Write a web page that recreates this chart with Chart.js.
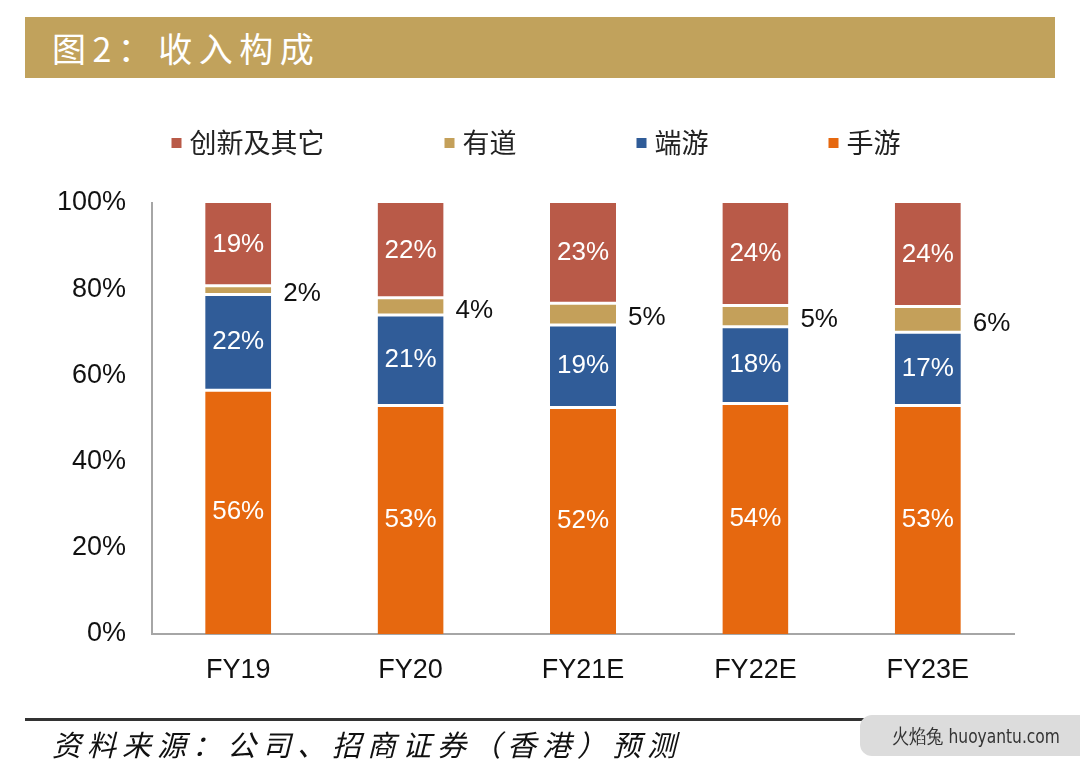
<!DOCTYPE html>
<html>
<head>
<meta charset="utf-8">
<script src="https://cdn.jsdelivr.net/npm/chart.js@4/dist/chart.umd.min.js"></script>
<style>
  body { margin: 0; width: 1080px; height: 771px; background: #fff; position: relative; overflow: hidden; }
  #banner { position: absolute; left: 25px; top: 17px; width: 1030px; height: 61px; background: #c1a25c; }
  #banner span { position: absolute; left: 27px; top: 6px; color: #fff; font: 34px "Noto Sans CJK SC"; letter-spacing: 6.5px; }
  #chart-box { position: absolute; left: 0; top: 100px; width: 1080px; height: 620px; }
  #rule { position: absolute; left: 25px; top: 718px; width: 840px; height: 3px; background: #333; }
  #source { position: absolute; left: 52px; top: 722px; font: italic 29px "Noto Sans CJK SC"; letter-spacing: 6px; color: #111; }
  #mark { position: absolute; left: 860px; top: 715px; width: 240px; height: 41px; background: #dcdcdc; border-radius: 12px; }
  #mark span { position: absolute; left: 32px; top: 8px; font: 20px "DejaVu Sans Condensed", "Liberation Sans"; color: #333; transform: scaleX(0.86); transform-origin: left center; white-space: nowrap; }
</style>
</head>
<body>
<div id="banner"><span>图2：收入构成</span></div>
<div id="chart-box"><canvas id="mix-chart"></canvas></div>
<div id="rule"></div>
<div id="source">资料来源：公司、招商证券（香港）预测</div>
<div id="mark"><span>火焰兔 huoyantu.com</span></div>

<script>
let years = ['FY19', 'FY20', 'FY21E', 'FY22E', 'FY23E'];
let mobileGames = [56, 53, 52, 54, 53];   // 手游
let pcGames = [22, 21, 19, 18, 17];       // 端游
let youdao = [2, 4, 5, 5, 6];             // 有道
let innovation = [19, 22, 23, 24, 24];    // 创新及其它
let yTicks = [0, 20, 40, 60, 80, 100];

// 100% stacked: each column is scaled to its own total, labels keep the read values
let totals = years.map(function (y, i) {
    return mobileGames[i] + pcGames[i] + youdao[i] + innovation[i];
});
function share(arr) {
    return arr.map(function (v, i) { return v / totals[i] * 100; });
}

let series = [
    { label: '手游', raw: mobileGames, color: '#e6680f', inside: true },
    { label: '端游', raw: pcGames, color: '#305c98', inside: true },
    { label: '有道', raw: youdao, color: '#c4a05a', inside: false },
    { label: '创新及其它', raw: innovation, color: '#b95a48', inside: true }
];

let font = '"Liberation Sans", Arial, sans-serif';

// value labels on the bars
let barLabels = {
    id: 'barLabels',
    afterDatasetsDraw: function (chart) {
        let ctx = chart.ctx;
        ctx.save();
        ctx.font = '26px ' + font;
        ctx.textBaseline = 'middle';
        chart.data.datasets.forEach(function (ds, di) {
            let meta = chart.getDatasetMeta(di);
            meta.data.forEach(function (bar, i) {
                let text = ds.raw[i] + '%';
                let cy = (bar.y + bar.base) / 2;
                if (ds.inside) {
                    ctx.fillStyle = '#fff';
                    ctx.textAlign = 'center';
                    ctx.fillText(text, bar.x, cy);
                } else {
                    ctx.fillStyle = '#111';
                    ctx.textAlign = 'left';
                    ctx.fillText(text, bar.x + bar.width / 2 + 12, cy + 4);
                }
            });
        });
        ctx.restore();
    }
};

// legend row, reversed order like the original
let legendRow = {
    id: 'legendRow',
    afterDraw: function (chart) {
        let ctx = chart.ctx;
        let items = chart.data.datasets.slice().reverse();
        let gap = 120, box = 10, space = 8;
        ctx.save();
        ctx.font = '27px "Noto Sans CJK SC"';
        let widths = items.map(function (ds) { return box + space + ctx.measureText(ds.label).width; });
        let total = widths.reduce(function (a, b) { return a + b; }, 0) + gap * (items.length - 1);
        let x = 536 - total / 2;
        let y = 43;
        items.forEach(function (ds, i) {
            ctx.fillStyle = ds.backgroundColor;
            ctx.fillRect(x, y - box / 2, box, box);
            ctx.fillStyle = '#222';
            ctx.textAlign = 'left';
            ctx.textBaseline = 'middle';
            ctx.fillText(ds.label, x + box + space, y);
            x += widths[i] + gap;
        });
        ctx.restore();
    }
};

let ctx = document.getElementById('mix-chart').getContext('2d');
let mixChart = new Chart(ctx, {
    type: 'bar',
    data: {
        labels: years,
        datasets: series.map(function (s, si) {
            return {
                label: s.label,
                data: share(s.raw),
                raw: s.raw,
                inside: s.inside,
                backgroundColor: s.color,
                borderColor: '#fff',
                borderWidth: { top: si === series.length - 1 ? 0 : 1.5, bottom: si === 0 ? 0 : 1.5, left: 0, right: 0 },
                borderSkipped: false,
                categoryPercentage: 1,
                barPercentage: 0.383
            };
        })
    },
    options: {
        responsive: true,
        maintainAspectRatio: false,
        animation: false,
        layout: { padding: { top: 103, right: 66, bottom: 16, left: 0 } },
        plugins: {
            legend: { display: false },
            tooltip: { enabled: false }
        },
        scales: {
            x: {
                stacked: true,
                grid: { display: false, drawTicks: false },
                border: { display: true, color: '#a6a6a6', width: 2 },
                ticks: { color: '#111', font: { family: font, size: 27 }, padding: 20 },
                afterFit: function (scale) { scale.height = 70; }
            },
            y: {
                stacked: true,
                min: 0,
                max: 100,
                afterBuildTicks: function (scale) {
                    scale.ticks = yTicks.map(function (v) { return { value: v }; });
                },
                afterFit: function (scale) { scale.width = 152; },
                grid: { display: false, drawTicks: false },
                border: { display: true, color: '#a6a6a6', width: 2 },
                ticks: {
                    color: '#111',
                    font: { family: font, size: 27 },
                    padding: 26,
                    callback: function (v) { return v + '%'; }
                }
            }
        }
    },
    plugins: [barLabels, legendRow]
});
</script>
</body>
</html>
